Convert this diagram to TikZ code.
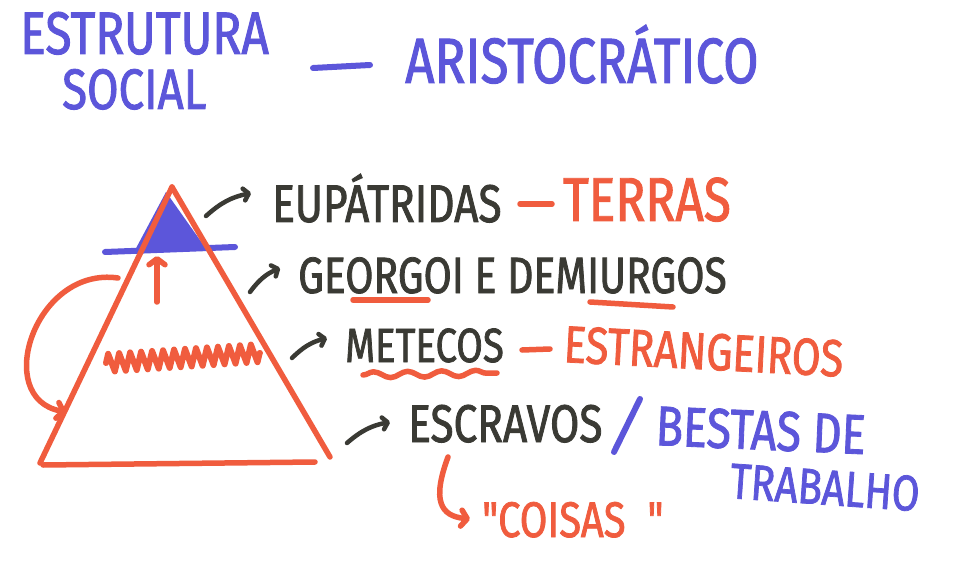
\documentclass[tikz,border=0pt]{standalone}
\usepackage{fontspec}
\newfontfamily\markerfont[FakeStretch=0.8, FakeBold=1.5]{Fira Sans}
\usepackage{xcolor}
\definecolor{penBlue}{RGB}{92, 86, 218}
\definecolor{penRed}{RGB}{240, 92, 62}
\definecolor{penDark}{RGB}{58, 58, 52}
\usepackage{tikz}
\usetikzlibrary{
    arrows.meta,
    positioning,
    decorations.pathmorphing
}

\begin{document}
\begin{tikzpicture}[
    x=1pt, y=-1pt,
    handText/.style={
        font=\markerfont\fontsize{#1}{#1}\selectfont,
        anchor=base west, inner sep=0pt
    },
    darkText/.style={handText=#1, text=penDark},
    redText/.style={handText=#1, text=penRed},
    blueText/.style={handText=#1, text=penBlue},
    redLine/.style={
        draw=penRed, line width=5.5pt, line cap=round, line join=round
    },
    blueLine/.style={
        draw=penBlue, line width=6pt, line cap=round, line join=round
    },
    darkArrow/.style={
        draw=penDark, line width=4.5pt, line cap=round,
        -{Straight Barb[length=5pt, width=12pt, round]}
    },
    redArrow/.style={
        redLine, -{Straight Barb[length=6pt, width=16pt, round]}
    }
]

    % Page
    \fill[white] (0,0) rectangle (957,561);
    \useasboundingbox (0,0) rectangle (957,561);

    % Title
    \node[blueText=60] (tEstrutura) at (20,54) {ESTRUTURA};
    \node[blueText=57] (tSocial) at (62,109) {SOCIAL};
    \draw[blueLine] (313,68) -- (370,65);
    \node[blueText=64] (tAristo) at (405,83) {ARISTOCRÁTICO};

    % Pyramid: top layer in blue
    \fill[penBlue] (166,192) -- (134,252) -- (207,250) -- cycle;
    \draw[blueLine] (105,252) -- (235,247);

    \coordinate (apex) at (172,187);
    \coordinate (cornerL) at (40,463);
    \coordinate (cornerR) at (330,457);
    \draw[redLine] (apex) -- (cornerL);
    \draw[redLine] (apex) -- (cornerR);
    \draw[redLine] (43,465) -- (315,462);

    % Movement inside the pyramid
    \coordinate (riseFrom) at (157,302);
    \coordinate (riseTo) at (157,256);
    \draw[redArrow] (riseFrom) -- (riseTo);

    \coordinate (dropFrom) at (118,278);
    \coordinate (dropTo) at (66,412);
    \draw[redArrow] (dropFrom) .. controls (35,266) and (-8,398) .. (dropTo);

    % Metecos layer scribble
    \draw[redLine, line width=6pt, decorate,
        decoration={zigzag, amplitude=9pt, segment length=11pt}]
        (106,363) -- (260,353);

    % Layers
    \node[darkText=53] (eup) at (272,222) {EUPÁTRIDAS};
    \draw[redLine] (520,204) -- (552,204);
    \node[redText=62] (terras) at (563,221) {TERRAS};

    \node[darkText=51] (geo) at (298,293) {GEORGOI E DEMIURGOS};
    \draw[redLine] (353,300) -- (428,300);
    \draw[redLine] (590,302) -- (673,307);

    \node[darkText=48] (met) at (345,362) {METECOS};
    \draw[redLine, decorate,
        decoration={snake, amplitude=3pt, segment length=34pt}]
        (363,375) -- (497,373);
    \draw[redLine] (522,350) -- (550,349);
    \node[redText=52, rotate=-3] (estr) at (563,362) {ESTRANGEIROS};

    \node[darkText=53] (esc) at (408,442) {ESCRAVOS};
    \draw[blueLine] (614,452) -- (640,399);
    \node[blueText=56, rotate=-2.5] (bestas) at (655,445) {BESTAS DE};
    \node[blueText=50, rotate=-4] (trabalho) at (729,498) {TRABALHO};

    \coordinate (hookFrom) at (448,457);
    \node[redText=50] (coisas) at (482,537) {"COISAS\hspace{22pt}"};
    \draw[redArrow] (hookFrom) .. controls (432,500) and (440,516) .. ([xshift=-12pt, yshift=18pt]coisas.base west);

    % Pointers to the layers
    \coordinate (pEup) at (206,216);
    \coordinate (pGeo) at (250,292);
    \coordinate (pMet) at (292,358);
    \coordinate (pEsc) at (347,443);
    \draw[darkArrow] (pEup) to[bend left=15] ([xshift=-21pt, yshift=29pt]eup.base west);
    \draw[darkArrow] (pGeo) to[bend left=15] ([xshift=-18pt, yshift=25pt]geo.base west);
    \draw[darkArrow] (pMet) to[bend left=15] ([xshift=-18pt, yshift=24pt]met.base west);
    \draw[darkArrow] (pEsc) to[bend left=15] ([xshift=-18pt, yshift=20pt]esc.base west);

\end{tikzpicture}
\end{document}
